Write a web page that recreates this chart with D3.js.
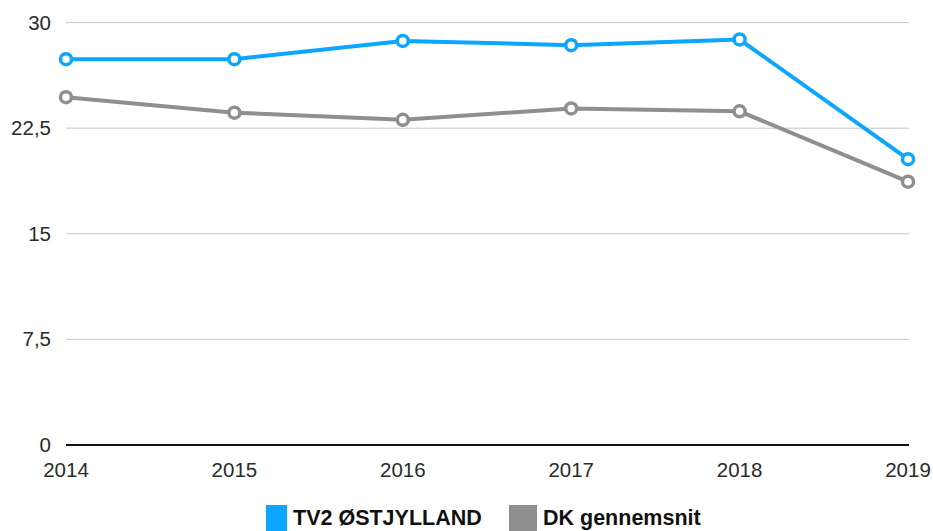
<!DOCTYPE html>
<html>
<head>
<meta charset="utf-8">
<script src="https://cdn.jsdelivr.net/npm/d3@7"></script>
<style>
  body { margin: 0; background: #fff; }
  svg text { font-family: "Liberation Sans", Arial, sans-serif; fill: #2b2b2b; }
</style>
</head>
<body>
<div id="chart"></div>
<script>
const years = ["2014", "2015", "2016", "2017", "2018", "2019"];
const tv2Values = [27.4, 27.4, 28.7, 28.4, 28.8, 20.3];
const dkValues = [24.7, 23.6, 23.1, 23.9, 23.7, 18.7];
const yTicks = [0, 7.5, 15, 22.5, 30];
const seriesNames = ["TV2 ØSTJYLLAND", "DK gennemsnit"];
const seriesColors = ["#0aa6ff", "#8f8f8f"];

const width = 933, height = 531;
const margin = { top: 22.6, right: 24, bottom: 86, left: 66 };
const innerH = height - margin.top - margin.bottom;

const svg = d3.select("#chart").append("svg")
  .attr("width", width)
  .attr("height", height);

const g = svg.append("g")
  .attr("transform", "translate(" + margin.left + "," + margin.top + ")");

const x = d3.scalePoint()
  .domain(years)
  .range([0, 842]);

const y = d3.scaleLinear()
  .domain([0, 30])
  .range([innerH, 0]);

// gridlines
g.selectAll(".grid")
  .data(yTicks.filter(d => d > 0))
  .enter().append("line")
  .attr("x1", 0)
  .attr("x2", 843)
  .attr("y1", d => y(d))
  .attr("y2", d => y(d))
  .attr("stroke", "#c6c6c6")
  .attr("stroke-width", 1);

// zero axis
g.append("line")
  .attr("x1", 0)
  .attr("x2", 843)
  .attr("y1", y(0))
  .attr("y2", y(0))
  .attr("stroke", "#111")
  .attr("stroke-width", 2);

// y labels
g.selectAll(".ylab")
  .data(yTicks)
  .enter().append("text")
  .attr("x", -15)
  .attr("y", d => y(d) + 7)
  .attr("text-anchor", "end")
  .style("font-size", "20.5px")
  .text(d => String(d).replace(".", ","));

// x labels
g.selectAll(".xlab")
  .data(years)
  .enter().append("text")
  .attr("x", d => x(d))
  .attr("y", innerH + 32)
  .attr("text-anchor", "middle")
  .style("font-size", "20.5px")
  .text(d => d);

const series = [tv2Values, dkValues];
const line = d3.line()
  .x((d, i) => x(years[i]))
  .y(d => y(d));

// draw gray first so blue is on top
[1, 0].forEach(si => {
  g.append("path")
    .datum(series[si])
    .attr("fill", "none")
    .attr("stroke", seriesColors[si])
    .attr("stroke-width", 4)
    .attr("stroke-linejoin", "round")
    .attr("d", line);
  g.selectAll(".pt" + si)
    .data(series[si])
    .enter().append("circle")
    .attr("cx", (d, i) => x(years[i]))
    .attr("cy", d => y(d))
    .attr("r", 5.5)
    .attr("fill", "#fff")
    .attr("stroke", seriesColors[si])
    .attr("stroke-width", 3.5);
});

// legend
const legendX = [266, 509];
const legend = svg.selectAll(".legend")
  .data(seriesNames)
  .enter().append("g")
  .attr("transform", (d, i) => "translate(" + legendX[i] + ",505)");
legend.append("rect")
  .attr("width", (d, i) => i === 0 ? 21 : 28)
  .attr("height", 26)
  .attr("fill", (d, i) => seriesColors[i]);
legend.append("text")
  .attr("x", (d, i) => i === 0 ? 27 : 34)
  .attr("y", 19.5)
  .style("font-size", "21.5px")
  .style("font-weight", "bold")
  .style("fill", "#111")
  .text(d => d);
</script>
</body>
</html>
